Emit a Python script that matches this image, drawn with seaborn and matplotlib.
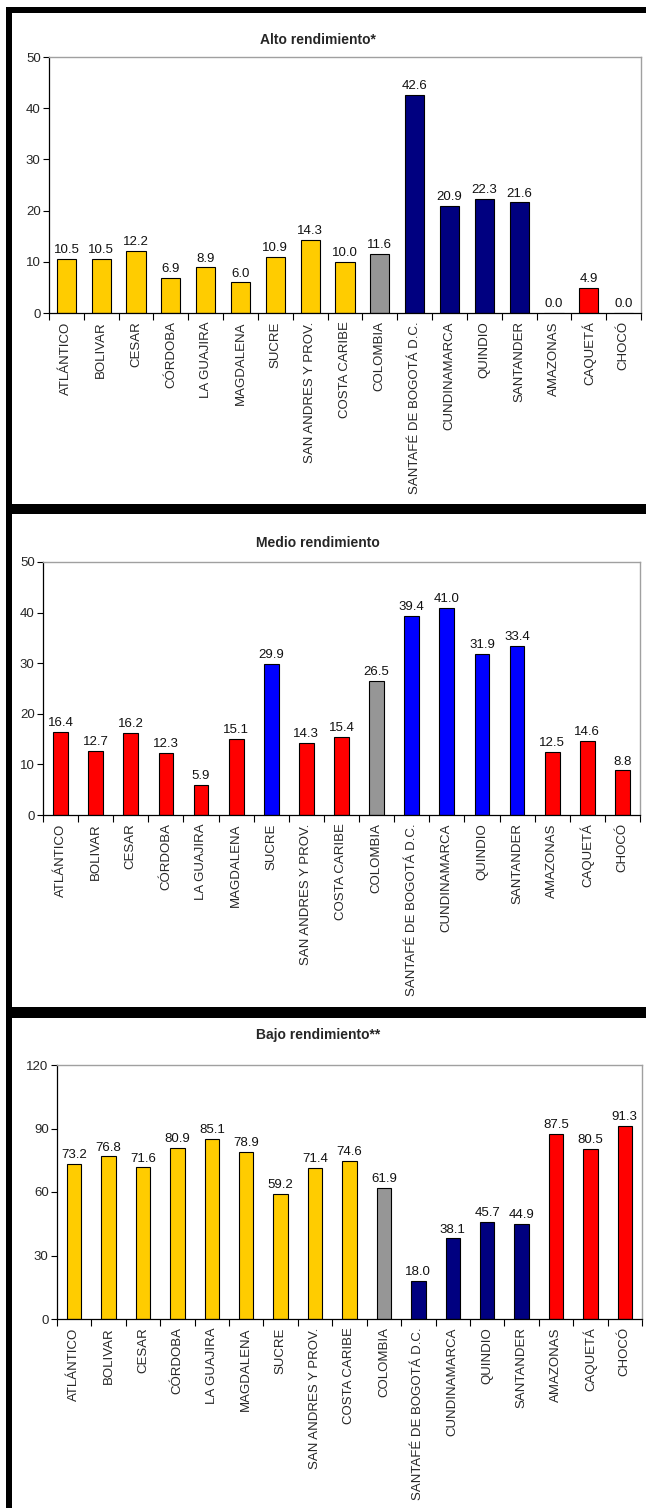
import numpy as np
import matplotlib
matplotlib.use("Agg")
import matplotlib.pyplot as plt
import seaborn as sns
from matplotlib.patches import Rectangle
from matplotlib.ticker import FixedLocator

# datos
departamentos = ['ATLÁNTICO', 'BOLIVAR', 'CESAR', 'CÓRDOBA', 'LA GUAJIRA', 'MAGDALENA',
                 'SUCRE', 'SAN ANDRES Y PROV.', 'COSTA CARIBE', 'COLOMBIA',
                 'SANTAFÉ DE BOGOTÁ D.C.', 'CUNDINAMARCA', 'QUINDIO', 'SANTANDER',
                 'AMAZONAS', 'CAQUETÁ', 'CHOCÓ']

alto = [10.5, 10.5, 12.2, 6.9, 8.9, 6.0, 10.9, 14.3, 10.0, 11.6,
        42.6, 20.9, 22.3, 21.6, 0.0, 4.9, 0.0]
medio = [16.4, 12.7, 16.2, 12.3, 5.9, 15.1, 29.9, 14.3, 15.4, 26.5,
         39.4, 41.0, 31.9, 33.4, 12.5, 14.6, 8.8]
bajo = [73.2, 76.8, 71.6, 80.9, 85.1, 78.9, 59.2, 71.4, 74.6, 61.9,
        18.0, 38.1, 45.7, 44.9, 87.5, 80.5, 91.3]

titulos = ['Alto rendimiento*', 'Medio rendimiento', 'Bajo rendimiento**']

AMARILLO = '#FFCC00'
AZUL_OSC = '#000080'
AZUL = '#0000FF'
GRIS = '#969696'
ROJO = '#FF0000'

colores_alto = [AMARILLO] * 9 + [GRIS] + [AZUL_OSC] * 4 + [ROJO] * 3
colores_medio = [ROJO] * 6 + [AZUL] + [ROJO] * 2 + [GRIS] + [AZUL] * 4 + [ROJO] * 3
colores_bajo = [AMARILLO] * 9 + [GRIS] + [AZUL_OSC] * 4 + [ROJO] * 3

sns.set_style("white")
plt.rcParams['font.family'] = ['Liberation Sans', 'DejaVu Sans']

W, H = 646, 1508
fig = plt.figure(figsize=(W / 100, H / 100), dpi=100)


def px_axes(l, r, t, b):
    return fig.add_axes([l / W, 1 - b / H, (r - l) / W, (b - t) / H])


def panel(ax, valores, colores, titulo, ymax, paso, ancho, ty):
    sns.barplot(x=departamentos, y=valores, hue=departamentos, palette=colores,
                legend=False, width=ancho, saturation=1, edgecolor='black',
                linewidth=0.8, ax=ax)
    for c in ax.containers:
        ax.bar_label(c, fmt='%.1f', padding=2, fontsize=9.5, color='#111111')
    ax.set_xlim(-0.5, len(departamentos) - 0.5)
    ax.set_ylim(0, ymax)
    ax.set_yticks(np.arange(0, ymax + 1, paso))
    ax.set_xlabel('')
    ax.set_ylabel('')
    ax.set_xticks(range(len(departamentos)))
    ax.set_xticklabels(departamentos, rotation=90, fontsize=9.5)
    ax.xaxis.set_minor_locator(FixedLocator(np.arange(-0.5, len(departamentos), 1)))
    ax.tick_params(axis='x', which='major', length=0, pad=6)
    ax.tick_params(axis='x', which='minor', length=5, width=0.8, color='black', direction='out')
    ax.tick_params(axis='y', length=4, width=0.8, color='black', direction='out', labelsize=9.5, pad=2)
    ax.tick_params(bottom=True, left=True, which='both')
    for s in ['left', 'bottom']:
        ax.spines[s].set_color('black')
        ax.spines[s].set_linewidth(0.9)
    for s in ['top', 'right']:
        ax.spines[s].set_color('#A0A0A0')
        ax.spines[s].set_linewidth(1.0)
    fig.text(318 / W, 1 - ty / H, titulo, ha='center', va='center',
             fontsize=10, fontweight='bold')


ax1 = px_axes(49, 641, 57, 313)
panel(ax1, alto, colores_alto, titulos[0], 50, 10, 0.55, 40)

ax2 = px_axes(43, 640, 562, 815)
panel(ax2, medio, colores_medio, titulos[1], 50, 10, 0.42, 543)

ax3 = px_axes(57, 642, 1065, 1319)
panel(ax3, bajo, colores_bajo, titulos[2], 120, 30, 0.42, 1035)

# marco negro
def barra(x0, y0, x1, y1):
    fig.add_artist(Rectangle((x0 / W, 1 - y1 / H), (x1 - x0) / W, (y1 - y0) / H,
                             transform=fig.transFigure, facecolor='black',
                             edgecolor='none', zorder=10))

barra(6, 7, 12, H)
barra(6, 7, W, 13)
barra(6, 504, W, 514)
barra(6, 1007, W, 1018)

fig.savefig('out.png', dpi=100)
